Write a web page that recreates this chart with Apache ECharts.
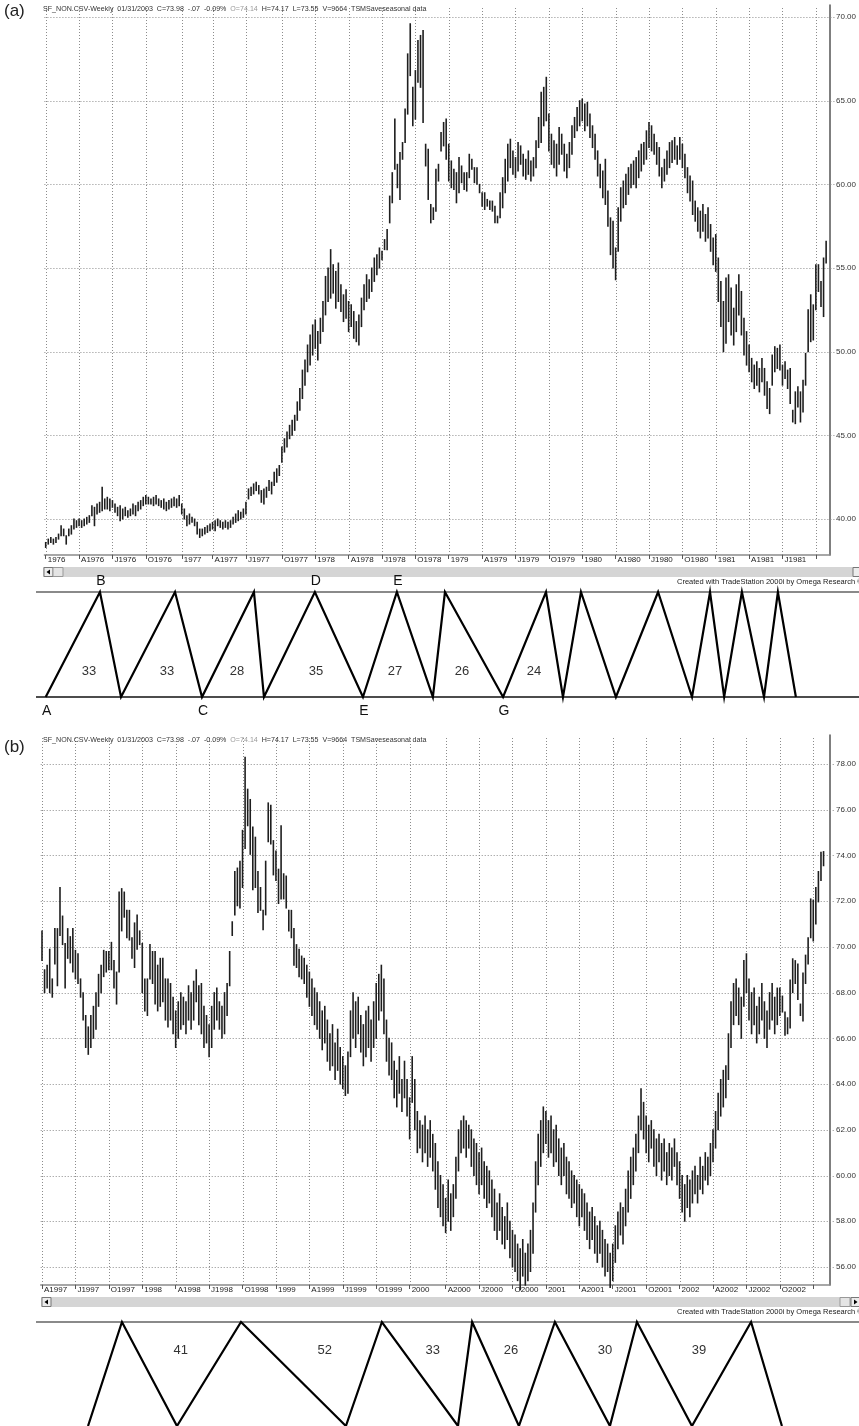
<!DOCTYPE html>
<html><head><meta charset="utf-8">
<script src="https://cdn.jsdelivr.net/npm/echarts@6/dist/echarts.min.js"></script>
<style>html,body{margin:0;padding:0;background:#fff}#c{width:859px;height:1426px}</style>
</head><body><div id="c"></div>
<script>
// ---------- Panel (a): weekly bars Jan 1976 - Oct 1981, [low, high] ----------
const aTickWeeks = [0,13,26,39,53,65,78,92,105,118,131,144,157,170,183,196,209,222,235,248,261,274,287,300];
const aTickLabels = ['1976','A1976','J1976','O1976','1977','A1977','J1977','O1977','1978','A1978','J1978','O1978','1979','A1979','J1979','O1979','1980','A1980','J1980','O1980','1981','A1981','J1981',''];
const aYTicks = [40,45,50,55,60,65,70];
const aBars = [
[38.3,38.6],[38.5,38.8],[38.6,38.9],[38.5,38.8],[38.6,38.9],[38.8,39.1],[39.0,39.6],[39.0,39.4],[38.5,39.0],[39.0,39.4],
[39.1,39.6],[39.4,40.0],[39.5,39.9],[39.6,40.0],[39.5,39.9],[39.6,40.0],[39.7,40.1],[39.8,40.2],[40.2,40.8],[39.6,40.7],
[40.3,40.9],[40.4,41.0],[40.5,41.9],[40.6,41.2],[40.6,41.3],[40.5,41.2],[40.7,41.1],[40.4,40.9],[40.2,40.7],[39.9,40.8],
[40.0,40.6],[40.2,40.7],[40.1,40.5],[40.2,40.6],[40.3,40.9],[40.2,40.8],[40.5,41.0],[40.6,41.1],[40.8,41.3],[40.9,41.4],
[40.9,41.3],[40.9,41.2],[40.8,41.3],[40.9,41.4],[40.8,41.2],[40.7,41.1],[40.6,41.2],[40.5,41.0],[40.6,41.1],[40.7,41.2],
[40.8,41.3],[40.7,41.2],[40.8,41.4],[40.3,40.9],[40.0,40.6],[39.6,40.2],[39.7,40.3],[39.8,40.1],[39.6,40.0],[39.1,39.8],
[38.9,39.4],[39.0,39.4],[39.1,39.5],[39.2,39.6],[39.3,39.7],[39.4,39.8],[39.3,39.9],[39.6,40.0],[39.5,39.9],[39.4,39.8],
[39.5,39.9],[39.4,39.8],[39.5,39.9],[39.7,40.1],[39.8,40.3],[39.9,40.5],[40.0,40.4],[40.1,40.6],[40.3,41.0],[41.2,41.8],
[41.4,41.9],[41.5,42.1],[41.7,42.2],[41.5,42.0],[41.0,41.7],[40.9,41.8],[41.3,41.9],[41.7,42.3],[41.5,42.2],[42.0,42.8],
[42.2,43.0],[42.6,43.2],[43.4,44.3],[44.0,44.8],[44.3,45.2],[44.8,45.6],[45.0,45.9],[45.3,46.2],[45.9,47.0],[46.5,47.8],
[47.2,48.9],[48.0,49.5],[48.8,50.4],[49.2,51.0],[49.8,51.6],[50.2,51.9],[49.5,51.2],[50.5,52.0],[51.2,53.0],[52.2,54.5],
[53.0,55.0],[53.2,56.1],[53.5,55.2],[52.6,54.8],[53.0,55.3],[52.4,54.0],[51.8,53.4],[52.0,53.7],[51.2,53.0],[51.5,52.8],
[50.8,52.4],[50.6,51.8],[50.4,52.2],[51.5,53.2],[52.5,54.0],[53.0,54.6],[53.2,54.3],[53.6,55.0],[54.2,55.6],[54.6,55.8],
[55.0,56.2],[55.5,56.0],[56.1,56.7],[56.1,57.3],[57.7,59.3],[58.9,60.7],[60.9,63.9],[59.8,61.2],[59.1,61.9],[61.5,62.5],
[62.5,64.5],[64.2,67.8],[66.5,69.6],[63.5,65.8],[63.9,66.8],[66.1,68.6],[65.8,68.9],[63.7,69.2],[61.1,62.4],[59.1,62.1],
[57.7,58.8],[57.9,58.6],[58.4,60.9],[60.2,61.2],[62.0,63.1],[62.3,63.7],[61.5,63.9],[60.2,62.4],[59.8,61.4],[59.7,60.9],
[58.9,60.7],[59.5,61.6],[60.1,61.1],[59.7,60.7],[59.6,60.7],[60.4,61.8],[60.9,61.5],[60.1,61.0],[60.0,61.0],[59.5,60.0],
[58.7,59.5],[58.5,59.5],[58.7,59.1],[58.5,59.0],[58.4,59.0],[57.7,58.7],[57.7,58.1],[58.0,59.5],[58.6,60.4],[59.5,61.5],
[60.2,62.4],[61.0,62.7],[60.6,62.0],[60.4,61.6],[60.8,62.5],[61.2,62.3],[60.5,61.8],[60.3,61.5],[60.6,62.0],[60.2,61.4],
[60.5,61.6],[61.0,62.6],[62.2,64.0],[62.5,65.5],[63.5,65.8],[63.8,66.4],[62.0,64.2],[61.2,63.0],[61.0,62.6],[60.5,62.4],
[61.2,63.4],[61.8,63.0],[60.8,62.4],[60.4,61.8],[61.0,62.5],[61.8,63.5],[62.8,64.0],[63.2,64.6],[63.5,65.0],[63.8,65.1],
[63.2,64.8],[63.5,64.9],[62.8,64.2],[62.2,63.5],[61.5,63.0],[60.5,62.0],[59.8,61.2],[59.2,60.8],[58.8,61.5],[57.5,59.6],
[55.8,58.0],[55.0,57.8],[54.3,56.2],[56.0,58.6],[57.8,59.8],[58.6,60.2],[58.8,60.6],[59.4,61.0],[59.8,61.2],[60.0,61.4],
[59.8,61.6],[60.4,62.0],[60.8,62.4],[61.2,62.5],[61.5,63.2],[62.2,63.7],[62.0,63.5],[61.8,63.0],[61.2,62.5],[60.5,62.2],
[59.8,61.0],[60.2,61.5],[60.6,62.0],[61.0,62.5],[61.3,62.6],[61.5,62.8],[61.2,62.3],[61.5,62.8],[61.0,62.4],[60.4,61.8],
[59.5,61.0],[59.0,60.5],[58.2,60.2],[57.8,59.0],[57.2,58.6],[56.8,58.4],[57.2,58.8],[56.6,58.2],[56.8,58.6],[56.0,57.6],
[55.2,56.8],[54.8,57.0],[53.0,55.6],[51.5,54.2],[50.0,53.0],[50.5,54.4],[51.8,54.6],[51.0,53.8],[50.4,52.6],[51.2,54.0],
[52.2,54.6],[51.0,53.6],[49.8,52.0],[49.2,51.2],[48.8,50.4],[48.2,49.6],[47.8,49.2],[48.0,49.4],[47.6,49.0],[48.2,49.6],
[47.4,49.0],[46.6,48.2],[46.3,47.8],[48.0,49.8],[48.8,50.3],[49.0,50.2],[48.9,50.4],[48.0,49.2],[48.4,49.4],[47.8,48.9],
[46.9,49.0],[45.8,46.5],[45.7,47.6],[46.7,47.9],[45.8,47.6],[46.4,48.3],[48.0,49.9],[50.0,52.5],[50.6,53.4],[50.7,52.8],
[52.5,55.2],[53.6,55.2],[52.7,54.2],[52.1,55.6],[55.3,56.6]
];
// cycle zigzag (a): turning points in weeks, 0 = low, 1 = high
const aZigWeeks = [0,21.1,29.3,50.3,60.8,81,84.9,104.7,123.4,136.6,150.6,155.3,177.9,194.6,201.2,208.2,221.8,238.2,251.4,258.4,263.9,270.8,279.4,284.8,291.8];
const aZigLevels = [0,1,0,1,0,1,0,1,0,1,0,1,0,1,0,1,0,1,0,1,0,1,0,1,0];
const aZigLetters = ['A','B','','','C','','','D','E','E','','','G','','','','','','','','','','','',''];
const aCycleNums = [33,33,28,35,27,26,24];
const aCycleWeeks = [16.8,47.2,74.4,105.1,135.9,161.9,189.9];

// ---------- Panel (b): weekly bars Apr 1997 - Jan 2003, [low, high] ----------
const bTickWeeks = [0,13,26,39,52,65,78,91,104,117,130,143,157,170,183,196,209,222,235,248,261,274,287,300];
const bTickLabels = ['A1997','J1997','O1997','1998','A1998','J1998','O1998','1999','A1999','J1999','O1999','2000','A2000','J2000','O2000','2001','A2001','J2001','O2001','2002','A2002','J2002','O2002',''];
const bYTicks = [56,58,60,62,64,66,68,70,72,74,76,78];
const bBars = [
[69.4,70.7],[68.0,69.0],[68.2,69.2],[68.0,69.9],[67.8,68.6],[69.25,70.8],[68.3,70.8],[70.5,72.6],[70.1,71.35],[68.2,70.15],
[69.5,70.8],[69.3,70.45],[68.9,70.8],[68.6,69.85],[68.4,69.7],[67.8,68.6],[66.8,68.0],[65.6,67.0],[65.3,66.5],[65.6,67.0],
[66.0,67.4],[66.4,68.0],[67.4,68.8],[68.0,69.2],[68.7,69.85],[68.9,69.8],[69.0,69.8],[69.0,70.2],[68.2,69.4],[67.5,68.9],
[68.9,72.4],[70.7,72.55],[71.3,72.4],[70.4,71.6],[70.3,71.6],[69.5,70.4],[69.1,71.05],[69.9,71.4],[70.1,70.7],[68.0,70.15],
[67.2,68.6],[67.0,68.6],[68.6,70.1],[68.4,69.8],[67.5,69.8],[67.2,69.2],[67.4,69.5],[67.6,69.5],[66.8,68.6],[66.5,68.6],
[66.8,68.4],[66.2,67.8],[65.6,67.2],[66.0,67.6],[66.4,68.0],[66.6,67.8],[66.2,67.6],[66.8,68.3],[66.4,68.0],[66.8,68.5],
[67.6,69.0],[66.6,68.3],[66.2,68.4],[65.6,67.4],[65.8,67.0],[65.2,66.6],[65.6,67.4],[66.4,68.0],[66.8,68.2],[66.4,67.6],
[66.0,67.4],[66.2,68.0],[67.0,68.4],[68.3,69.8],[70.5,71.1],[71.4,73.3],[71.8,73.45],[71.7,73.75],[72.6,75.1],[74.3,78.3],
[75.3,76.9],[74.05,76.45],[72.5,75.25],[72.6,74.8],[71.5,73.3],[71.6,72.6],[70.75,71.6],[71.4,73.75],[74.6,76.3],[74.5,76.2],
[73.15,74.65],[72.9,74.2],[71.9,73.4],[72.1,75.3],[72.1,73.2],[71.7,73.1],[70.7,71.6],[70.4,71.6],[69.2,70.8],[69.1,70.1],
[68.7,69.9],[68.6,69.6],[68.4,69.5],[67.8,69.2],[67.4,68.9],[67.0,68.6],[66.6,68.2],[66.4,68.0],[66.0,67.6],[65.5,67.2],
[65.8,67.4],[65.0,66.8],[64.6,66.2],[64.8,66.6],[64.2,65.8],[64.6,66.4],[64.0,65.6],[63.8,65.2],[63.5,64.8],[63.6,65.4],
[65.2,67.2],[66.0,68.0],[65.6,67.6],[66.2,67.8],[65.4,67.0],[64.8,66.6],[65.2,67.2],[65.6,67.4],[65.0,66.8],[65.6,67.6],
[66.0,68.4],[66.8,68.8],[67.2,69.2],[66.2,68.6],[65.0,66.8],[64.4,66.0],[64.2,65.8],[63.4,65.0],[63.0,64.6],[63.6,65.2],
[62.8,64.2],[63.4,65.0],[62.6,64.2],[61.6,63.4],[63.2,65.2],[62.0,64.2],[61.0,62.8],[61.2,62.4],[60.6,62.2],[61.0,62.6],
[60.4,62.0],[60.8,62.4],[60.2,61.8],[59.4,61.4],[58.6,60.6],[58.2,60.0],[57.8,59.6],[57.5,59.0],[58.0,59.8],[57.6,59.2],
[58.2,59.6],[59.0,60.8],[60.2,62.0],[61.0,62.4],[61.2,62.6],[60.8,62.4],[61.2,62.2],[60.4,62.0],[60.0,61.6],[59.6,61.4],
[59.2,61.0],[59.6,61.2],[59.0,60.6],[58.6,60.4],[58.8,60.2],[58.2,59.8],[57.6,59.4],[57.2,58.8],[57.6,59.2],[57.0,58.6],
[56.8,58.2],[57.2,58.8],[56.4,58.0],[56.0,57.6],[55.8,57.4],[55.4,57.0],[55.0,56.8],[55.6,57.2],[55.2,56.6],[55.4,57.0],
[55.8,57.6],[56.6,58.8],[58.4,60.6],[59.6,61.8],[60.4,62.4],[61.0,63.0],[61.4,62.8],[60.8,62.4],[61.0,62.6],[60.4,62.0],
[60.6,62.2],[60.0,61.6],[59.6,61.2],[60.0,61.4],[59.2,60.8],[59.0,60.6],[58.6,60.2],[58.8,60.0],[58.2,59.8],[57.8,59.6],
[58.2,59.4],[57.6,59.2],[57.2,58.8],[56.8,58.4],[57.2,58.6],[56.6,58.2],[56.2,57.8],[56.6,58.0],[56.0,57.6],[55.6,57.2],
[55.8,57.0],[55.1,56.6],[55.4,57.0],[56.2,57.8],[56.8,58.4],[57.4,58.8],[57.0,58.6],[57.8,59.4],[58.4,60.2],[59.0,60.8],
[59.6,61.2],[60.2,61.8],[61.0,62.6],[62.0,63.8],[61.6,63.2],[61.0,62.6],[60.6,62.2],[61.2,62.4],[60.4,62.0],[60.0,61.6],
[60.6,61.8],[59.8,61.4],[60.2,61.6],[59.6,61.0],[60.0,61.4],[59.8,61.2],[60.4,61.6],[59.6,61.0],[59.0,60.6],[58.4,60.0],
[58.0,59.6],[58.6,60.0],[58.2,59.8],[58.8,60.2],[59.2,60.4],[58.8,60.0],[59.4,60.8],[59.2,60.4],[59.8,61.0],[59.6,60.8],
[60.0,61.4],[60.6,62.0],[61.2,62.8],[62.0,63.6],[62.6,64.2],[63.0,64.6],[63.4,64.8],[64.2,66.2],[65.6,67.6],[66.6,68.4],
[67.0,68.6],[66.6,68.2],[66.0,67.8],[67.4,69.4],[68.0,69.7],[66.8,68.6],[66.2,68.0],[66.6,68.2],[65.8,67.4],[66.2,67.8],
[66.8,68.4],[66.0,67.6],[65.6,67.2],[66.4,68.0],[66.8,68.4],[66.2,67.8],[66.6,68.2],[67.0,68.2],[67.15,67.85],[66.14,67.15],
[66.2,66.9],[66.45,68.55],[68.0,69.48],[68.4,69.4],[67.7,69.25],[67.0,67.5],[66.76,68.86],[68.4,69.64],[69.25,70.4],[70.4,72.1],
[70.26,72.05],[71.0,72.6],[71.97,73.3],[72.9,74.14],[73.55,74.17]
];
const bZigWeeks = [17.9,31.1,52.5,77.4,118.2,132.2,161.8,167.3,185.5,199.5,220.9,231.4,252.8,275.8,287.8];
const bZigLevels = [0,1,0,1,0,1,0,1,0,1,0,1,0,1,0];
const bCycleNums = [41,52,33,26,30,39];
const bCycleWeeks = [54,110,152,182.4,219,255.5];

const headerLeft = 'SF_NON.CSV-Weekly  01/31/2003  C=73.98  -.07  -0.09%  ';
const headerOpen = 'O=74.14';
const headerRight = '  H=74.17  L=73.55  V=9664  TSMSaveseasonal data';
const creditText = 'Created with TradeStation 2000i by Omega Research \u00A9 1999';

// ---------- layout ----------
const FONT = '"Liberation Sans", Arial, Helvetica, sans-serif';
const A_N = 306, B_N = 307;
const A_LEFT = 44.41, A_W = 786.7, B_LEFT = 40.71, B_W = 789.3;

const chart = echarts.init(document.getElementById('c'));

function barRender(params, api){
  const x = api.value(0);
  const lo = api.coord([x, api.value(1)]);
  const hi = api.coord([x, api.value(2)]);
  return {type:'line', shape:{x1:lo[0], y1:lo[1]+0.5, x2:hi[0], y2:hi[1]-0.5},
          style:{stroke:'#1e1e1e', lineWidth:1.6}};
}
function hGridRender(params, api){
  const cs = params.coordSys;
  const y = Math.round(api.coord([0, api.value(1)])[1]) + 0.5;
  return {type:'line', shape:{x1:cs.x, y1:y, x2:cs.x + cs.width + 5, y2:y},
          style:{stroke:'#8c8c8c', lineWidth:1, lineDash:[1,2]}};
}
function vGridRender(params, api){
  const cs = params.coordSys;
  const x = Math.round(api.coord([api.value(0), 0])[0]) + 0.5;
  return {type:'line', shape:{x1:x, y1:cs.y + 3, x2:x, y2:cs.y + cs.height},
          style:{stroke:'#8c8c8c', lineWidth:1, lineDash:[1,2]}};
}
function numRender(params, api){
  const p = api.coord([api.value(0), api.value(1)]);
  return {type:'text', x:p[0], y:p[1],
          style:{text:String(api.value(2)), fontSize:13, fontFamily:FONT, fill:'#333', align:'center', verticalAlign:'middle'}};
}
function letterRender(params, api){
  const t = aZigLetters[params.dataIndex];
  if (!t) return {type:'group', children:[]};
  const lvl = api.value(1);
  const p = api.coord([api.value(0), lvl]);
  return {type:'text', x:p[0] + 1, y: lvl > 0.5 ? p[1] - 11 : p[1] + 14,
          style:{text:t, fontSize:14, fontFamily:FONT, fill:'#111', align:'center', verticalAlign:'middle'}};
}

function priceX(grid, n, ticks, labels){
  return {gridIndex:grid, type:'value', min:-0.5, max:n - 0.5,
    axisLine:{show:true, onZero:false, lineStyle:{color:'#8a8a8a', width:1.5}},
    axisTick:{show:true, customValues:ticks, length:4, lineStyle:{color:'#555'}},
    axisLabel:{show:true, customValues:ticks, align:'left', padding:[0,0,0,2], margin:1,
      fontSize:8, fontFamily:FONT, color:'#222',
      formatter:function(v){ const i = ticks.indexOf(Number(v)); return i >= 0 ? labels[i] : ''; }},
    splitLine:{show:false}};
}
function priceY(grid, mn, mx, ticks){
  return {gridIndex:grid, type:'value', position:'right', min:mn, max:mx,
    axisLine:{show:true, onZero:false, lineStyle:{color:'#555', width:1.5}},
    axisTick:{show:false},
    axisLabel:{show:true, customValues:ticks, margin:6, fontSize:8, fontFamily:FONT, color:'#333',
      formatter:function(v){ return Number(v).toFixed(2); }},
    splitLine:{show:false}};
}
function hiddenX(grid, n){ return {gridIndex:grid, type:'value', min:-0.5, max:n - 0.5, show:false}; }
function hiddenY(grid){ return {gridIndex:grid, type:'value', min:0, max:1, show:false}; }

function zigSeries(ax, weeks, levels){
  return {type:'line', xAxisIndex:ax, yAxisIndex:ax, data:weeks.map((w,i)=>[w, levels[i]]),
    symbol:'none', clip:false, silent:true, animation:false, z:5,
    lineStyle:{color:'#000', width:2.2, join:'miter'}};
}

const headerRich = {a:{fontSize:7.1, fontFamily:FONT, fill:'#333'}, b:{fontSize:7.1, fontFamily:FONT, fill:'#999'}};

const option = {
  animation:false,
  backgroundColor:'#fff',
  grid:[
    {left:A_LEFT, top:5, width:A_W, height:550},
    {left:A_LEFT, top:592, width:A_W, height:105},
    {left:B_LEFT, top:735, width:B_W, height:550},
    {left:B_LEFT, top:1322, width:B_W, height:104}
  ],
  xAxis:[
    priceX(0, A_N, aTickWeeks, aTickLabels),
    hiddenX(1, A_N),
    priceX(2, B_N, bTickWeeks, bTickLabels),
    hiddenX(3, B_N)
  ],
  yAxis:[
    priceY(0, 37.85, 70.72, aYTicks),
    hiddenY(1),
    priceY(2, 55.21, 79.27, bYTicks),
    hiddenY(3)
  ],
  series:[
    {type:'custom', xAxisIndex:0, yAxisIndex:0, renderItem:hGridRender, data:aYTicks.map(v=>[0,v]), encode:{x:0,y:1}, silent:true, z:1},
    {type:'custom', xAxisIndex:0, yAxisIndex:0, renderItem:vGridRender, data:aTickWeeks.map(w=>[w,50]), encode:{x:0,y:1}, silent:true, z:1},
    {type:'custom', xAxisIndex:0, yAxisIndex:0, renderItem:barRender, data:aBars.map((b,i)=>[i,b[0],b[1]]), encode:{x:0,y:[1,2]}, silent:true, z:3},
    {type:'custom', xAxisIndex:2, yAxisIndex:2, renderItem:hGridRender, data:bYTicks.map(v=>[0,v]), encode:{x:0,y:1}, silent:true, z:1},
    {type:'custom', xAxisIndex:2, yAxisIndex:2, renderItem:vGridRender, data:bTickWeeks.map(w=>[w,60]), encode:{x:0,y:1}, silent:true, z:1},
    {type:'custom', xAxisIndex:2, yAxisIndex:2, renderItem:barRender, data:bBars.map((b,i)=>[i,b[0],b[1]]), encode:{x:0,y:[1,2]}, silent:true, z:3},
    zigSeries(1, aZigWeeks, aZigLevels),
    zigSeries(3, bZigWeeks, bZigLevels),
    {type:'custom', xAxisIndex:1, yAxisIndex:1, renderItem:letterRender, data:aZigWeeks.map((w,i)=>[w, aZigLevels[i]]), encode:{x:0,y:1}, silent:true, z:6},
    {type:'custom', xAxisIndex:1, yAxisIndex:1, renderItem:numRender, data:aCycleNums.map((n,i)=>[aCycleWeeks[i], 0.24, n]), encode:{x:0,y:1}, silent:true, z:6},
    {type:'custom', xAxisIndex:3, yAxisIndex:3, renderItem:numRender, data:bCycleNums.map((n,i)=>[bCycleWeeks[i], 0.73, n]), encode:{x:0,y:1}, silent:true, z:6}
  ],
  graphic:[
    {type:'text', left:4, top:3, style:{text:'(a)', fontSize:17, fontFamily:FONT, fill:'#222'}},
    {type:'text', left:4, top:739, style:{text:'(b)', fontSize:17, fontFamily:FONT, fill:'#222'}},
    {type:'text', left:43, top:6, z:10, style:{text:'{a|'+headerLeft+'}{b|'+headerOpen+'}{a|'+headerRight+'}', rich:headerRich}},
    {type:'text', left:43, top:737, z:10, style:{text:'{a|'+headerLeft+'}{b|'+headerOpen+'}{a|'+headerRight+'}', rich:headerRich}},
    // scrollbars
    {type:'rect', shape:{x:43, y:567, width:816, height:10}, style:{fill:'#d5d5d5'}},
    {type:'rect', shape:{x:44, y:567.5, width:9, height:9}, style:{fill:'#ececec', stroke:'#777', lineWidth:1}},
    {type:'rect', shape:{x:53, y:567.5, width:10, height:9}, style:{fill:'#e4e4e4', stroke:'#999', lineWidth:1}},
    {type:'polygon', shape:{points:[[46.5,572],[50,569.5],[50,574.5]]}, style:{fill:'#000'}},
    {type:'rect', shape:{x:853, y:567.5, width:7, height:9}, style:{fill:'#ececec', stroke:'#777', lineWidth:1}},
    {type:'rect', shape:{x:41, y:1297, width:818, height:10}, style:{fill:'#d5d5d5'}},
    {type:'rect', shape:{x:42, y:1297.5, width:9, height:9}, style:{fill:'#ececec', stroke:'#777', lineWidth:1}},
    {type:'polygon', shape:{points:[[44.5,1302],[48,1299.5],[48,1304.5]]}, style:{fill:'#000'}},
    {type:'rect', shape:{x:840, y:1297.5, width:10, height:9}, style:{fill:'#e4e4e4', stroke:'#999', lineWidth:1}},
    {type:'rect', shape:{x:851, y:1297.5, width:9, height:9}, style:{fill:'#ececec', stroke:'#777', lineWidth:1}},
    {type:'polygon', shape:{points:[[857.5,1302],[854,1299.5],[854,1304.5]]}, style:{fill:'#000'}},
    // credits
    {type:'text', left:677, top:578, style:{text:creditText, fontSize:7.5, fontFamily:FONT, fill:'#222'}},
    {type:'text', left:677, top:1308, style:{text:creditText, fontSize:7.5, fontFamily:FONT, fill:'#222'}},
    // zigzag rules
    {type:'line', shape:{x1:36, y1:592, x2:859, y2:592}, style:{stroke:'#8a8a8a', lineWidth:2}},
    {type:'line', shape:{x1:36, y1:697, x2:859, y2:697}, style:{stroke:'#111', lineWidth:1.5}},
    {type:'line', shape:{x1:36, y1:1322, x2:859, y2:1322}, style:{stroke:'#8a8a8a', lineWidth:2}}
  ]
};
chart.setOption(option);
</script>
</body></html>
